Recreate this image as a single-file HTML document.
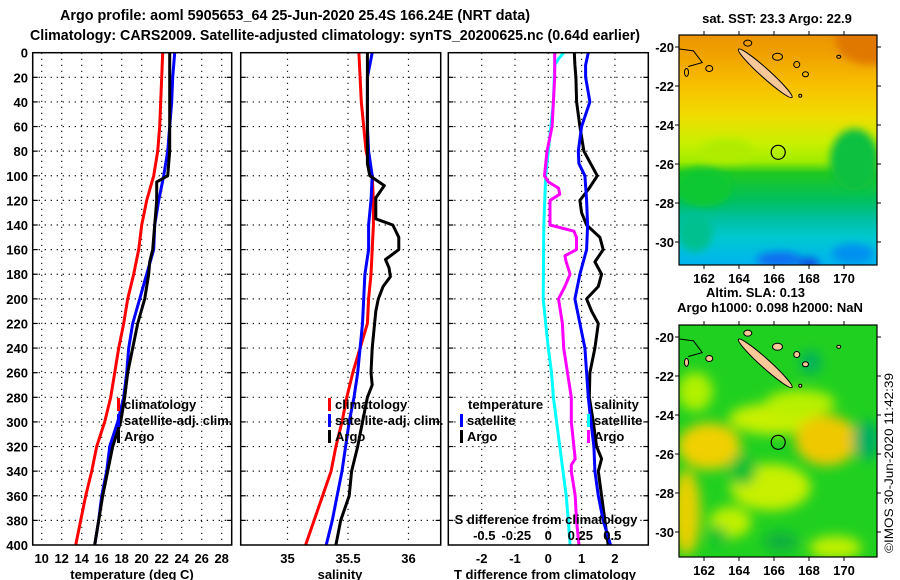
<!DOCTYPE html>
<html><head><meta charset="utf-8"><style>
html,body{margin:0;padding:0;background:#fff}
svg{display:block;font-family:"Liberation Sans",sans-serif;font-weight:bold}
</style></head><body>
<svg id="chart" width="900" height="580" viewBox="0 0 900 580" xmlns="http://www.w3.org/2000/svg">
<defs>
<filter id="blur1" x="-50%" y="-50%" width="200%" height="200%"><feGaussianBlur stdDeviation="6"/></filter>
<filter id="blur2" x="-50%" y="-50%" width="200%" height="200%"><feGaussianBlur stdDeviation="4"/></filter>
<clipPath id="clipTop"><rect x="679" y="35" width="198" height="230"/></clipPath>
<clipPath id="clipBot"><rect x="679" y="325" width="198" height="232"/></clipPath>
<linearGradient id="sstGrad" x1="0" y1="0" x2="0" y2="1">
<stop offset="0" stop-color="#ec9400"/><stop offset="0.1" stop-color="#f0a400"/>
<stop offset="0.22" stop-color="#f8c000"/><stop offset="0.35" stop-color="#f0dc00"/>
<stop offset="0.47" stop-color="#c8f000"/><stop offset="0.55" stop-color="#a0ec00"/>
<stop offset="0.6" stop-color="#20c820"/><stop offset="0.72" stop-color="#00c060"/>
<stop offset="0.8" stop-color="#00c0a0"/><stop offset="0.88" stop-color="#00c8d0"/>
<stop offset="1" stop-color="#00b4f0"/>
</linearGradient>
</defs>
<text x="60" y="20" font-size="15" textLength="470" lengthAdjust="spacingAndGlyphs">Argo profile: aoml 5905653_64 25-Jun-2020 25.4S 166.24E (NRT data)</text>
<text x="30" y="40" font-size="15" textLength="610" lengthAdjust="spacingAndGlyphs">Climatology: CARS2009. Satellite-adjusted climatology: synTS_20200625.nc (0.64d earlier)</text>
<g id="plots"></g>
<g id="maps"></g>
<text transform="translate(893,553) rotate(-90)" font-size="12" font-weight="normal" textLength="180" lengthAdjust="spacingAndGlyphs">©IMOS 30-Jun-2020 11:42:39</text>
</svg>
<script>
// ---- data ----
const depths = [0,20,40,60,80,100,120,140,160,180,200,220,240,260,280,300,320,340,360,380,400];
const tClim = [22.1,22.0,21.9,21.8,21.6,21.2,20.5,20.0,19.7,19.2,18.6,18.2,17.7,17.3,16.9,16.3,15.5,15.0,14.4,13.9,13.4];
const tSat = [23.3,23.1,23.0,22.8,22.6,22.2,21.7,21.3,21.2,20.5,19.8,19.1,18.7,18.5,18.2,17.6,16.8,16.5,16.0,15.7,15.3];
const tArgoDepths = [0,20,40,60,80,100,105,120,140,160,170,180,200,220,240,260,280,300,320,340,360,380,400];
const tArgo = [22.8,22.8,22.8,22.8,22.8,22.6,21.5,21.5,21.3,21.1,20.8,20.7,20.3,19.6,19.1,18.6,18.3,17.9,17.1,16.6,16.1,15.7,15.3];
const sClim = [35.59,35.60,35.61,35.63,35.65,35.70,35.71,35.71,35.70,35.69,35.67,35.66,35.60,35.54,35.49,35.45,35.40,35.36,35.29,35.22,35.15];
const sSat = [35.70,35.66,35.66,35.66,35.67,35.70,35.69,35.67,35.67,35.64,35.63,35.62,35.60,35.58,35.55,35.51,35.48,35.45,35.41,35.37,35.32];
const sArgoDepths = [0,40,90,100,108,118,125,135,140,150,160,168,175,182,190,200,210,220,240,260,270,280,300,320,340,360,380,400];
const sArgo = [35.66,35.66,35.66,35.68,35.80,35.73,35.73,35.73,35.87,35.92,35.92,35.81,35.84,35.85,35.79,35.75,35.73,35.72,35.70,35.69,35.70,35.66,35.62,35.58,35.53,35.51,35.44,35.40];
const dtArgoDepths = [0,10,20,40,60,80,100,110,120,130,140,150,160,170,180,190,200,210,220,240,260,280,300,320,330,340,360,380,400];
const dtArgo = [0.78,0.8,0.83,0.85,0.95,1.07,1.47,1.23,0.95,1.0,1.15,1.55,1.65,1.4,1.6,1.5,1.15,1.3,1.5,1.4,1.25,1.23,1.35,1.45,1.6,1.5,1.6,1.7,1.8];
const dtSatDepths = [0,10,20,40,60,80,90,100,120,140,160,180,200,220,240,260,280,300,320,340,360,380,400];
const dtSat = [1.2,1.12,1.12,1.25,1.0,0.9,0.92,1.1,1.15,1.18,1.15,0.95,0.8,0.95,1.1,1.15,1.2,1.28,1.37,1.4,1.5,1.65,1.87];
const dsArgoDepths = [0,20,40,60,80,100,105,110,115,120,140,145,150,160,165,170,180,190,200,220,240,260,280,300,320,330,335,340,360,380,400];
const dsArgo = [0.05,0.05,0.04,0.03,-0.01,-0.03,0.0,0.08,0.09,0.013,0.013,0.2,0.22,0.22,0.13,0.14,0.17,0.13,0.08,0.11,0.12,0.15,0.18,0.18,0.2,0.21,0.18,0.18,0.21,0.22,0.24];
const dsSatDepths = [0,5,10,40,80,100,140,200,220,240,260,280,300,320,340,360,380,400];
const dsSat = [0.12,0.08,0.05,0.04,0.0,-0.02,-0.035,-0.04,-0.02,0.0,0.025,0.04,0.065,0.09,0.115,0.14,0.156,0.17];
const depthTicks = [0,20,40,60,80,100,120,140,160,180,200,220,240,260,280,300,320,340,360,380,400];
const tempTicks = [10,12,14,16,18,20,22,24,26,28];
const salTicks = [35,35.5,36];
const salTickLabels = ["35","35.5","36"];
const dtTicks = [-2,-1,0,1,2];
const dsTicks = [-0.5,-0.25,0,0.25,0.5];
const dsTickLabels = ["-0.5","-0.25","0","0.25","0.5"];
const lonTicks = [162,164,166,168,170];
const latTicks = [-20,-22,-24,-26,-28,-30];
const argoLon = 166.24, argoLat = -25.4;

// ---- helpers ----
const NS = "http://www.w3.org/2000/svg";
const plots = document.getElementById('plots');
const maps = document.getElementById('maps');
function mk(tag, attrs, parent){const e=document.createElementNS(NS,tag);for(const k in attrs)e.setAttribute(k,attrs[k]);(parent||plots).appendChild(e);return e;}
const Y0=52.7, Y1=545;
const yD = d => Y0 + d*(Y1-Y0)/400;
const P1={x0:32.7,x1:231.7}, P2={x0:240.7,x1:440.7}, P3={x0:448.3,x1:648.3};
const xT = t => 41.7 + (t-10)*10;
const xS = s => 287.5 + (s-35)*121;
const xDT = t => 548.3 + t*33.3;
const xDS = s => 548.3 + s*128;

function grid(P, xs, xf){
  const g=mk('g',{});
  
  
  depthTicks.forEach(d=>{ if(d>0&&d<400){ mk('line',{x1:P.x0,x2:P.x1,y1:yD(d),y2:yD(d),stroke:'#000','stroke-width':1.2,'stroke-dasharray':'1.2,4.8'},g);
    mk('line',{x1:P.x0,x2:P.x0+5,y1:yD(d),y2:yD(d),stroke:'#000','stroke-width':1.2},g);
    mk('line',{x1:P.x1-5,x2:P.x1,y1:yD(d),y2:yD(d),stroke:'#000','stroke-width':1.2},g);}});
  xs.forEach(v=>{const x=xf(v); mk('line',{x1:x,x2:x,y1:Y0,y2:Y1,stroke:'#000','stroke-width':1.2,'stroke-dasharray':'1.2,4.8'},g);});
}
function frame(P,name){const r=mk('rect',{x:P.x0,y:Y0,width:P.x1-P.x0,height:Y1-Y0,fill:'none',stroke:'#000','stroke-width':1.5});
  
  }
function line(ds, vs, xf, color, name){
  const pts=ds.map((d,i)=>xf(vs[i]).toFixed(1)+','+yD(d).toFixed(1)).join(' ');
  const p=mk('polyline',{points:pts,fill:'none',stroke:color,'stroke-width':3,'stroke-linejoin':'round'});
  
  
}
function txt(x,y,s,size,anchor,name,parent){const t=mk('text',{x:x,y:y,'font-size':size,'text-anchor':anchor||'start'},parent);t.textContent=s;
  
  return t;}

// panel 1
grid(P1,tempTicks,xT);
line(depths,tClim,xT,'#ff0000','temp-climatology-line');
line(depths,tSat,xT,'#0000ff','temp-satellite-line');
line(tArgoDepths,tArgo,xT,'#000000','temp-argo-line');
frame(P1,'temperature-panel');
depthTicks.forEach(d=>txt(28,yD(d)+5,String(d),13,'end','depth-tick-label'));
tempTicks.forEach(v=>txt(xT(v),563,String(v),13,'middle','temp-tick-label'));
txt(132,579,'temperature (deg C)',13,'middle','x-axis-title-temperature');
// panel 2
grid(P2,salTicks,xS);
line(depths,sClim,xS,'#ff0000','sal-climatology-line');
line(depths,sSat,xS,'#0000ff','sal-satellite-line');
line(sArgoDepths,sArgo,xS,'#000000','sal-argo-line');
frame(P2,'salinity-panel');
salTicks.forEach((v,i)=>txt(xS(v),563,salTickLabels[i],13,'middle','sal-tick-label'));
txt(340,579,'salinity',13,'middle','x-axis-title-salinity');
// panel 3
grid(P3,dtTicks,xDT);
line(dsSatDepths,dsSat,xDS,'#00ffff','sdiff-satellite-line');
line(dsArgoDepths,dsArgo,xDS,'#ff00ff','sdiff-argo-line');
line(dtArgoDepths,dtArgo,xDT,'#000000','tdiff-argo-line');
line(dtSatDepths,dtSat,xDT,'#0000ff','tdiff-satellite-line');
frame(P3,'difference-panel');
dtTicks.forEach(v=>txt(xDT(v),563,String(v),13,'middle','tdiff-tick-label'));
dsTicks.forEach((v,i)=>txt(xDS(v),540,dsTickLabels[i],13,'middle','sdiff-tick-label'));
txt(546,524,'S difference from climatology',13,'middle','sdiff-axis-title');
txt(545,579,'T difference from climatology',13,'middle','tdiff-axis-title');

// legends
function legItem(x,y,color,label,name){const b=mk('rect',{x:x,y:y-11,width:3,height:13,fill:color});
  
  
  txt(x+7,y,label,13,'start',name);}
legItem(117,409,'#ff0000','climatology','legend-climatology');
legItem(117,425,'#0000ff','satellite-adj. clim.','legend-satellite-adj');
legItem(117,441,'#000000','Argo','legend-argo');
legItem(328,409,'#ff0000','climatology','legend2-climatology');
legItem(328,425,'#0000ff','satellite-adj. clim.','legend2-satellite-adj');
legItem(328,441,'#000000','Argo','legend2-argo');
txt(468,409,'temperature',13,'start','legend-temperature-header');
legItem(460,425,'#0000ff','satellite','legend-t-satellite');
legItem(460,441,'#000000','Argo','legend-t-argo');
txt(594,409,'salinity',13,'start','legend-salinity-header');
legItem(587,425,'#00ffff','satellite','legend-s-satellite');
legItem(587,441,'#ff00ff','Argo','legend-s-argo');

// ---- maps ----
const MX0=679, MX1=877;
const mxL = lon => 704 + (lon-162)*17.5;
function mm(tag,attrs,parent){return mk(tag,attrs,parent||maps);}
function drawMap(top, yLat, clip, kind){
  const g=mm('g',{'clip-path':'url(#'+clip+')'});
  
  
  const h = (kind==='sst')?230:232;
  const rx = d=>d*17.5, ry=d=>d*19.5;
  if(kind==='sst'){
    mm('rect',{x:MX0,y:top,width:198,height:h,fill:'url(#sstGrad)'},g);
    const b=mm('g',{filter:'url(#blur2)'},g);
    mm('ellipse',{cx:mxL(171.5),cy:yLat(-19.6),rx:rx(2),ry:ry(1.3),fill:'#e07800'},b);
    mm('ellipse',{cx:mxL(170.6),cy:yLat(-25.8),rx:rx(1.4),ry:ry(1.6),fill:'#10c040'},b);
    mm('ellipse',{cx:mxL(163.3),cy:yLat(-25.3),rx:rx(1.5),ry:ry(0.6),fill:'#b0ec00'},b);
    mm('ellipse',{cx:mxL(162),cy:yLat(-27.2),rx:rx(1.6),ry:ry(1),fill:'#10c830'},b);
    mm('ellipse',{cx:mxL(166.3),cy:yLat(-30.9),rx:rx(1.3),ry:ry(0.4),fill:'#1070f0'},b);
    mm('ellipse',{cx:mxL(168),cy:yLat(-31.1),rx:rx(0.6),ry:ry(0.3),fill:'#0850e0'},b);
    mm('ellipse',{cx:mxL(170.5),cy:yLat(-30.6),rx:rx(1.2),ry:ry(0.5),fill:'#0090f0'},b);
    mm('ellipse',{cx:mxL(161.5),cy:yLat(-29.5),rx:rx(1),ry:ry(1),fill:'#00c090'},b);
  } else {
    mm('rect',{x:MX0,y:top,width:198,height:h,fill:'#20d020'},g);
    const b=mm('g',{filter:'url(#blur1)'},g);
    const blobs=[[166,-24.2,2.6,0.8,'#c8f000'],[167.5,-23.4,2,0.7,'#b8f000'],[161.5,-22.8,1,1,'#b0f000'],
      [162.3,-25.6,1.8,1.2,'#f0d000'],[169,-25.3,1.8,1.3,'#f0c800'],[161,-29,0.8,2.2,'#e8d000'],
      [165.8,-27.7,2.3,1.2,'#c8f000'],[169.5,-30.8,1.5,0.6,'#c0f000'],[163.5,-29.5,1.2,0.8,'#c0f000'],
      [168.1,-21.3,0.6,0.6,'#00b060'],[171.3,-25.3,0.8,1.0,'#00b060'],[164.2,-26.8,0.8,0.8,'#10c030'],
      [166.4,-30.5,1.0,0.5,'#10b040'],[162.8,-30.2,0.5,0.5,'#10c030']];
    blobs.forEach(q=>mm('ellipse',{cx:mxL(q[0]),cy:yLat(q[1]),rx:rx(q[2]),ry:ry(q[3]),fill:q[4]},b));
  }
  const cx=mxL(165.5), cy=yLat(-21.35);
  const isl=mm('ellipse',{cx:cx,cy:cy,rx:36,ry:4.5,fill:'#f8c898',stroke:'#000','stroke-width':1,transform:'rotate(42 '+cx+' '+cy+')'},g);
  
  
  [[164.5,-19.8,4,3],[166.2,-20.5,5,3.5],[167.3,-20.9,3,3],[167.8,-21.4,3,2.5],[162.3,-21.1,3.5,3],[169.7,-20.5,2,1.5],[161,-21.3,2,4],[167.5,-22.5,1.5,1.5]].forEach(q=>
    mm('ellipse',{cx:mxL(q[0]),cy:yLat(q[1]),rx:q[2],ry:q[3],fill:kind==='sst'?'none':'#f8c898',stroke:'#000','stroke-width':1},g));
  mm('polyline',{points:[mxL(160.6),yLat(-20.1),mxL(161.4),yLat(-20.2),mxL(161.9),yLat(-20.8),mxL(161.1),yLat(-21.0)].join(' '),fill:'none',stroke:'#000','stroke-width':1},g);
  const c=mm('circle',{cx:mxL(argoLon),cy:yLat(argoLat),r:7,fill:'none',stroke:'#000','stroke-width':1.2},g);
  
  
  const f=mm('rect',{x:MX0,y:top,width:198,height:h,fill:'none',stroke:'#000','stroke-width':1.2});
  
  
  lonTicks.forEach(l=>{mm('line',{x1:mxL(l),x2:mxL(l),y1:top-4,y2:top,stroke:'#000'});mm('line',{x1:mxL(l),x2:mxL(l),y1:top+h,y2:top+h+4,stroke:'#000'});
    txt(mxL(l),top+h+18,String(l),13,'middle','lon-tick-label',maps);});
  latTicks.forEach(l=>{mm('line',{x1:MX0-4,x2:MX0,y1:yLat(l),y2:yLat(l),stroke:'#000'});mm('line',{x1:MX1,x2:MX1+4,y1:yLat(l),y2:yLat(l),stroke:'#000'});
    txt(674,yLat(l)+5,String(l),13,'end','lat-tick-label',maps);});
}
const yTop = lat => 47 + (-20-lat)*19.5;
const yBot = lat => 337 + (-20-lat)*19.5;
drawMap(35,yTop,'clipTop','sst');
drawMap(325,yBot,'clipBot','sla');
txt(777,23,'sat. SST: 23.3 Argo: 22.9',13,'middle','sst-map-title');
txt(706,297,'Altim. SLA: 0.13',13,'start','sla-value-label');
txt(770,312,'Argo h1000: 0.098 h2000: NaN',13,'middle','sla-map-title');
</script>
</body></html>
